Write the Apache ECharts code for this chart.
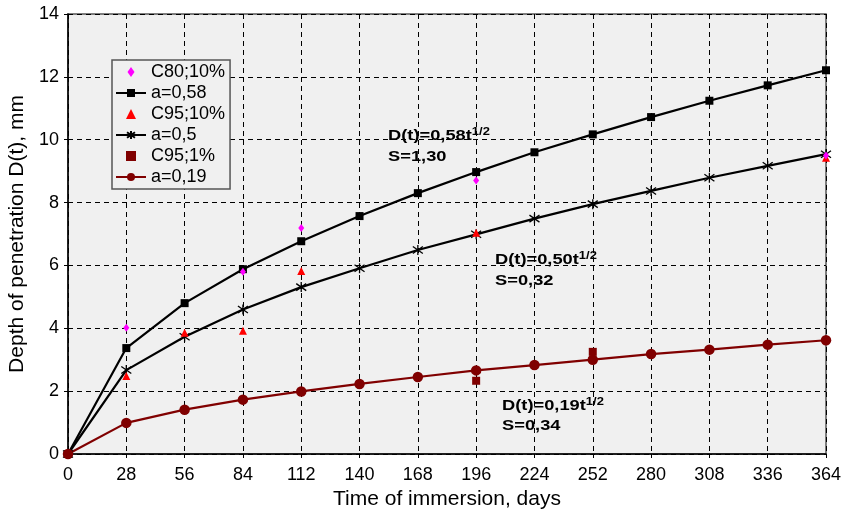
<!DOCTYPE html>
<html><head><meta charset="utf-8">
<script src="https://cdn.jsdelivr.net/npm/echarts@6/dist/echarts.min.js"></script>
<style>html,body{margin:0;padding:0;background:#fff}#c{width:844px;height:515px}</style>
</head><body><div id="c"></div>
<script>
const days = [0, 28, 56, 84, 112, 140, 168, 196, 224, 252, 280, 308, 336, 364];
const fitA058 = [0, 3.37, 4.80, 5.88, 6.77, 7.57, 8.30, 8.97, 9.60, 10.17, 10.72, 11.24, 11.73, 12.21];
const fitA05 = [0, 2.67, 3.73, 4.60, 5.31, 5.91, 6.49, 6.99, 7.49, 7.95, 8.37, 8.79, 9.17, 9.54];
const fitA019 = [0, 0.99, 1.41, 1.73, 1.99, 2.23, 2.45, 2.66, 2.83, 3.00, 3.18, 3.32, 3.48, 3.62];
const c80Days = [28, 84, 112, 196, 364];
const c80Vals = [4.02, 5.80, 7.19, 8.70, 9.50];
const c95_10Days = [28, 56, 84, 112, 196, 364];
const c95_10Vals = [2.48, 3.86, 3.92, 5.82, 7.04, 9.43];
const c95_1Days = [196, 252];
const c95_1Vals = [2.33, 3.25];

const pair = (xs, ys) => xs.map((x, i) => [x, ys[i]]);
const FONT = 'Arial, "Liberation Sans", sans-serif';
const starPath = 'path://M5,0L5,10M0,1.5L10,8.5M0,8.5L10,1.5';
const diamondIcon = 'path://M3.5,0L7,5L3.5,10L0,5Z';
const triIcon = 'path://M4,0L8,8L0,8Z';
const rectIcon = 'path://M0,0L8,0L8,8L0,8Z';

const annStyle = {
  rich: {
    b: {fontSize: 15.5, fontWeight: 'bold', fontFamily: FONT, fill: '#000'},
    s: {fontSize: 11, fontWeight: 'bold', fontFamily: FONT, fill: '#000', verticalAlign: 'top', padding: [0, 0, 9, 0]}
  }
};
function ann(x, y1, y2, eq, s) {
  return [
    {type: 'text', x: x, y: y1, scaleX: 1.18, style: Object.assign({text: '{b|' + eq + '}{s|1/2}'}, annStyle)},
    {type: 'text', x: x, y: y2, scaleX: 1.18, style: {text: s, fontSize: 15.5, fontWeight: 'bold', fontFamily: FONT, fill: '#000'}}
  ];
}

const chart = echarts.init(document.getElementById('c'), null, {renderer: 'canvas'});
chart.setOption({
  animation: false,
  backgroundColor: '#fff',
  textStyle: {fontFamily: FONT},
  grid: {left: 68, right: 18, top: 14, bottom: 61, outerBoundsMode: 'none', containLabel: false,
    show: true, backgroundColor: '#f0f0f0', borderColor: '#555', borderWidth: 1.5},
  xAxis: {
    type: 'value', min: 0, max: 364, interval: 28,
    name: 'Time of immersion, days', nameLocation: 'middle', nameGap: 34,
    nameTextStyle: {fontSize: 21, color: '#000', fontFamily: FONT},
    axisLine: {show: true, lineStyle: {color: '#000', width: 1.5}},
    axisTick: {show: true, length: 4, lineStyle: {color: '#000'}},
    axisLabel: {fontSize: 18, color: '#000', margin: 12, fontFamily: FONT},
    splitLine: {show: true, lineStyle: {color: '#000', type: [5, 4], width: 1}}
  },
  yAxis: {
    type: 'value', min: 0, max: 14, interval: 2,
    name: 'Depth of penetration D(t), mm', nameLocation: 'middle', nameGap: 40,
    nameTextStyle: {fontSize: 21, color: '#000', fontFamily: FONT},
    axisLine: {show: true, lineStyle: {color: '#000', width: 1.5}},
    axisTick: {show: true, length: 4, lineStyle: {color: '#000'}},
    axisLabel: {fontSize: 18, color: '#000', margin: 9, fontFamily: FONT},
    splitLine: {show: true, lineStyle: {color: '#000', type: [5, 4], width: 1}}
  },
  legend: {
    orient: 'vertical', left: 112, top: 60, padding: [3, 5, 3, 3],
    backgroundColor: '#f0f0f0', borderColor: '#555', borderWidth: 1.5,
    itemWidth: 30, itemHeight: 10, itemGap: 3,
    textStyle: {fontSize: 18, color: '#000', fontFamily: FONT},
    data: [
      {name: 'C80;10%', icon: diamondIcon},
      'a=0,58',
      {name: 'C95;10%', icon: triIcon},
      'a=0,5',
      {name: 'C95;1%', icon: rectIcon},
      'a=0,19'
    ]
  },
  series: [
    {name: 'C80;10%', type: 'scatter', data: pair(c80Days, c80Vals), symbol: 'diamond', symbolSize: [6, 8], itemStyle: {color: '#ff00ff', opacity: 1}, z: 5},
    {name: 'a=0,58', type: 'line', data: pair(days, fitA058), symbol: 'rect', symbolSize: 8, showAllSymbol: true,
      lineStyle: {color: '#000', width: 2.2}, itemStyle: {color: '#000'}, z: 3},
    {name: 'C95;10%', type: 'scatter', data: pair(c95_10Days, c95_10Vals), symbol: 'triangle', symbolSize: 8, itemStyle: {color: '#ff0000', opacity: 1}, z: 4},
    {name: 'a=0,5', type: 'line', data: pair(days, fitA05), symbol: starPath, symbolSize: 10, showAllSymbol: true,
      lineStyle: {color: '#000', width: 2.2}, itemStyle: {color: '#000', borderColor: '#000', borderWidth: 1.3}, z: 3},
    {name: 'C95;1%', type: 'scatter', data: pair(c95_1Days, c95_1Vals), symbol: 'rect', symbolSize: 8, itemStyle: {color: '#800000', opacity: 1}, z: 4},
    {name: 'a=0,19', type: 'line', data: pair(days, fitA019), symbol: 'circle', symbolSize: 10.5, showAllSymbol: true,
      lineStyle: {color: '#800000', width: 2.2}, itemStyle: {color: '#800000'}, z: 3}
  ],
  graphic: [].concat(
    ann(388, 126, 149, 'D(t)=0,58t', 'S=1,30'),
    ann(495, 250, 273, 'D(t)=0,50t', 'S=0,32'),
    ann(502, 396, 418, 'D(t)=0,19t', 'S=0,34')
  )
});
</script></body></html>
